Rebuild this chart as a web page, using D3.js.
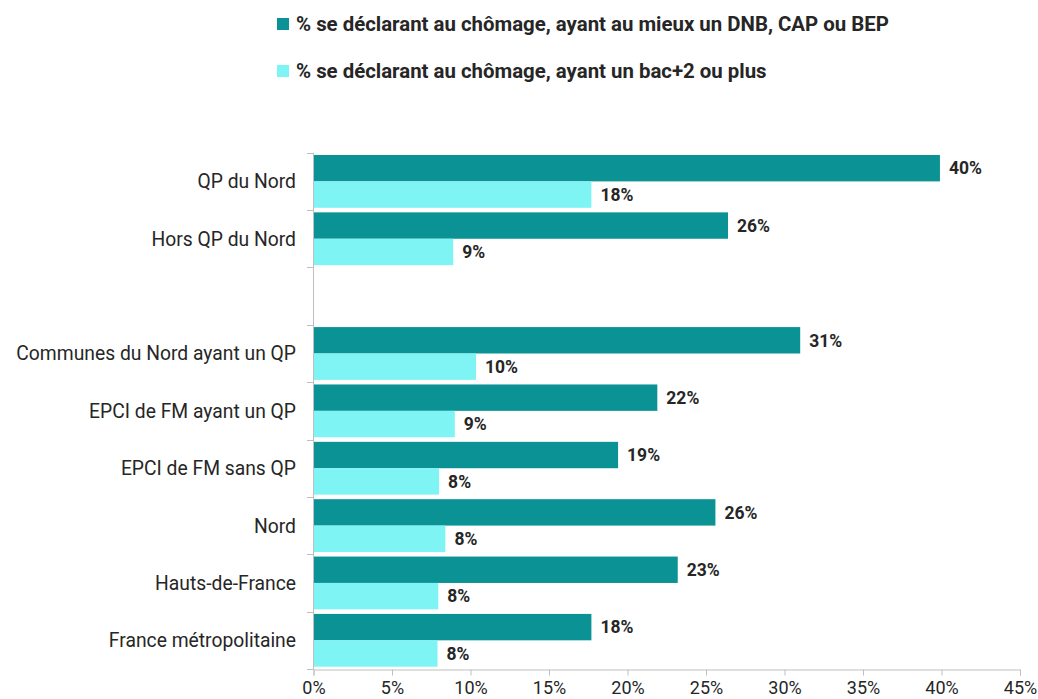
<!DOCTYPE html>
<html>
<head>
<meta charset="utf-8">
<script src="https://cdn.jsdelivr.net/npm/d3@7"></script>
<style>
  body { margin: 0; background: #fff; }
  text { font-family: Roboto, "Open Sans", sans-serif; }
</style>
</head>
<body>
<svg id="chart" width="1038" height="699"></svg>
<script>
const categories = ["QP du Nord", "Hors QP du Nord", "", "Communes du Nord ayant un QP", "EPCI de FM ayant un QP", "EPCI de FM sans QP", "Nord", "Hauts-de-France", "France métropolitaine"];
const seriesNames = ["% se déclarant au chômage, ayant au mieux un DNB, CAP ou BEP", "% se déclarant au chômage, ayant un bac+2 ou plus"];
const lowEdu = [39.9, 26.4, null, 31.0, 21.9, 19.4, 25.6, 23.2, 17.7];
const highEdu = [17.7, 8.9, null, 10.35, 9.0, 8.0, 8.4, 7.95, 7.9];
const xTicks = [0, 5, 10, 15, 20, 25, 30, 35, 40, 45];
const colors = ["#0a9294", "#7ef4f4"];

const svg = d3.select("#chart");
const x = d3.scaleLinear().domain([0, 45]).range([313.5, 1020]);
const y = d3.scaleBand().domain(categories.map((c, i) => i)).range([152.7, 669]).paddingInner(0.08).paddingOuter(0.04);
const sub = d3.scaleBand().domain([0, 1]).range([0, y.bandwidth()]);

const axisColor = "#bfbfbf";
const textColor = "#262626";

// y axis line + ticks at slot boundaries
const step = y.step();
const y0 = 152.7;
svg.append("line").attr("x1", 313.5).attr("x2", 313.5).attr("y1", y0).attr("y2", 669.5)
  .attr("stroke", axisColor).attr("stroke-width", 1);
for (let i = 0; i <= categories.length; i++) {
  const yy = Math.round(y0 + i * step) + 0.5;
  svg.append("line").attr("x1", 307).attr("x2", 313.5).attr("y1", yy).attr("y2", yy)
    .attr("stroke", axisColor);
}

// bars
const rows = categories.map((c, i) => ({ c, i, vals: [lowEdu[i], highEdu[i]] })).filter(d => d.c !== "");
const g = svg.append("g");
rows.forEach(d => {
  d.vals.forEach((v, s) => {
    const by = y(d.i) + sub(s);
    g.append("rect").attr("x", x(0) + 0.5).attr("y", by)
      .attr("width", x(v) - x(0) - 0.5).attr("height", sub.bandwidth())
      .attr("fill", colors[s]);
    g.append("text").attr("x", x(v) + 9).attr("y", by + sub.bandwidth() / 2)
      .attr("dy", "0.36em").attr("font-size", 17.5).attr("font-weight", 700)
      .attr("fill", textColor).text(Math.round(v) + "%");
  });
  svg.append("text").attr("x", 296).attr("y", y(d.i) + y.bandwidth() / 2)
    .attr("dy", "0.36em").attr("text-anchor", "end").attr("font-size", 19.3)
    .attr("fill", textColor).text(d.c);
});

// x axis
const xAxis = d3.axisBottom(x).tickValues(xTicks).tickFormat(d => d + "%").tickSize(6).tickPadding(6);
const xg = svg.append("g").attr("transform", "translate(0,669.5)").call(xAxis);
xg.select(".domain").attr("stroke", axisColor);
xg.selectAll(".tick line").attr("stroke", axisColor);
xg.selectAll(".tick text").attr("font-size", 18).attr("fill", textColor)
  .attr("font-family", "Roboto, sans-serif");

// legend
const legendY = [24, 71];
seriesNames.forEach((n, i) => {
  svg.append("rect").attr("x", 277).attr("y", legendY[i] - 6).attr("width", 12).attr("height", 12)
    .attr("fill", colors[i]);
  svg.append("text").attr("x", 296).attr("y", legendY[i]).attr("dy", "0.36em")
    .attr("font-size", 20.4).attr("font-weight", 700).attr("fill", textColor).text(n);
});
</script>
</body>
</html>
